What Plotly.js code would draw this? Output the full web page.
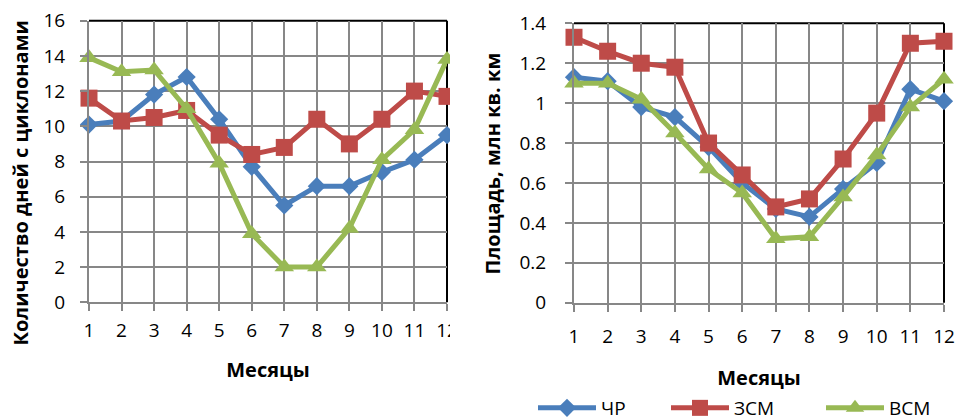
<!DOCTYPE html>
<html>
<head>
<meta charset="utf-8">
<script src="https://cdn.plot.ly/plotly-3.0.1.min.js"></script>
<style>html,body{margin:0;padding:0;background:#fff;}#chart{width:958px;height:420px;}</style>
</head>
<body>
<div id="chart"></div>
<script>
// Categories: months
const months = [1,2,3,4,5,6,7,8,9,10,11,12];
const monthLabels = ['1','2','3','4','5','6','7','8','9','10','11','12'];
const seriesNames = ['ЧР','ЗСМ','ВСМ'];

// Left chart: number of days with cyclones
const daysCHR = [10.1, 10.3, 11.8, 12.8, 10.4, 7.7, 5.5, 6.6, 6.6, 7.4, 8.1, 9.5];
const daysZSM = [11.6, 10.3, 10.5, 10.9, 9.5, 8.4, 8.8, 10.4, 9.0, 10.4, 12.0, 11.7];
const daysVSM = [13.9, 13.1, 13.2, 11.0, 7.9, 3.9, 2.0, 2.0, 4.2, 8.1, 9.8, 13.8];

// Right chart: area, mln sq. km
const areaCHR = [1.13, 1.11, 0.98, 0.93, 0.78, 0.60, 0.47, 0.43, 0.57, 0.70, 1.07, 1.01];
const areaZSM = [1.33, 1.26, 1.20, 1.18, 0.80, 0.64, 0.48, 0.52, 0.72, 0.95, 1.30, 1.31];
const areaVSM = [1.10, 1.10, 1.02, 0.85, 0.67, 0.55, 0.32, 0.33, 0.53, 0.74, 0.98, 1.12];

const leftTitle = 'Количество дней с циклонами';
const rightTitle = 'Площадь, млн кв. км';
const xTitle = 'Месяцы';

const colors = ['#4A7EBB', '#BE4B48', '#98B954'];
const symbols = ['diamond', 'square', 'triangle-up'];
const msizes = [14, 17, 17];

const leftData = [daysCHR, daysZSM, daysVSM];
const rightData = [areaCHR, areaZSM, areaVSM];

const traces = [];
leftData.forEach((ys, i) => {
  traces.push({
    x: months, y: ys, xaxis: 'x', yaxis: 'y', name: seriesNames[i],
    type: 'scatter', mode: 'lines+markers', cliponaxis: false, showlegend: false,
    line: {color: colors[i], width: 5},
    marker: {color: colors[i], symbol: symbols[i], size: msizes[i]}
  });
});
const legendNames = ['legend', 'legend2', 'legend3'];
rightData.forEach((ys, i) => {
  traces.push({
    x: months, y: ys, xaxis: 'x2', yaxis: 'y2', name: seriesNames[i],
    type: 'scatter', mode: 'lines+markers', cliponaxis: false, showlegend: true,
    legend: legendNames[i],
    line: {color: colors[i], width: 5},
    marker: {color: colors[i], symbol: symbols[i], size: msizes[i]}
  });
});

const W = 958, H = 420;
const fam = 'Open Sans, Noto Sans, sans-serif';
const font = {family: fam, size: 19, color: '#000'};
const titleFont = {family: fam, size: 20, color: '#000', weight: 'bold'};
const gridCol = '#878787';

function xaxisDef(domain, anchor, labelStandoff, titleStandoff) {
  return {
    domain: domain, anchor: anchor, range: [1, 12],
    tickvals: months, ticktext: monthLabels,
    showgrid: true, gridcolor: gridCol, gridwidth: 2,
    showline: true, linecolor: gridCol, linewidth: 2,
    ticks: 'outside', ticklen: 7, tickwidth: 2, tickcolor: gridCol,
    ticklabelstandoff: labelStandoff,
    zeroline: false, automargin: false, fixedrange: true,
    tickfont: font,
    title: {text: xTitle, font: titleFont, standoff: titleStandoff}
  };
}
function yaxisDef(domain, anchor, range, dtick, labelStandoff, fmt) {
  return {
    domain: domain, anchor: anchor, range: range, dtick: dtick, tick0: 0,
    tickformat: fmt,
    showgrid: true, gridcolor: gridCol, gridwidth: 2,
    showline: true, linecolor: gridCol, linewidth: 2,
    ticks: 'outside', ticklen: 7, tickwidth: 2, tickcolor: gridCol,
    ticklabelstandoff: labelStandoff,
    zeroline: false, automargin: false, fixedrange: true,
    tickfont: font
  };
}

const lx = [89/W, 447/W];
const ly = [(H-302.3)/H, (H-20.7)/H];
const rx = [574/W, 944/W];
const ry = [(H-302.7)/H, (H-23.3)/H];

function legendDef(px) {
  return {
    orientation: 'h', x: px/W, xanchor: 'left', y: (H-408)/H, yanchor: 'middle',
    font: font, itemwidth: 58, bgcolor: 'rgba(0,0,0,0)', borderwidth: 0,
    tracegroupgap: 0
  };
}

const layout = {
  width: W, height: H,
  margin: {l: 0, r: 0, t: 0, b: 0, autoexpand: false},
  paper_bgcolor: '#fff', plot_bgcolor: '#fff',
  font: font,
  showlegend: true,
  xaxis: xaxisDef(lx, 'y', 3, 21),
  yaxis: yaxisDef(ly, 'x', [0, 16], 2, 11, 'd'),
  xaxis2: xaxisDef(rx, 'y2', 8, 23),
  yaxis2: yaxisDef(ry, 'x2', [0, 1.4], 0.2, 15, ''),
  legend: legendDef(533),
  legend2: legendDef(666),
  legend3: legendDef(821),
  annotations: [
    {text: leftTitle, xref: 'paper', yref: 'paper', x: 20/W, y: (H-183.5)/H,
     xanchor: 'center', yanchor: 'middle', textangle: -90, showarrow: false, font: titleFont},
    {text: rightTitle, xref: 'paper', yref: 'paper', x: 492/W, y: (H-163.5)/H,
     xanchor: 'center', yanchor: 'middle', textangle: -90, showarrow: false, font: titleFont}
  ],
  shapes: [
    // black plot-area border on top and right (left chart)
    {type: 'line', xref: 'x domain', yref: 'y domain', x0: 0, x1: 1, y0: 1, y1: 1, line: {color: '#000', width: 2}, layer: 'below'},
    {type: 'line', xref: 'x domain', yref: 'y domain', x0: 1, x1: 1, y0: 0, y1: 1, line: {color: '#000', width: 2}, layer: 'below'},
    // right chart
    {type: 'line', xref: 'x2 domain', yref: 'y2 domain', x0: 0, x1: 1, y0: 1, y1: 1, line: {color: '#000', width: 2}, layer: 'below'},
    {type: 'line', xref: 'x2 domain', yref: 'y2 domain', x0: 1, x1: 1, y0: 0, y1: 1, line: {color: '#000', width: 2}, layer: 'below'},
    // crop edge of the left picture
    {type: 'rect', xref: 'paper', yref: 'paper', x0: 450/W, x1: 505/W, y0: 0, y1: 1, fillcolor: '#fff', line: {width: 0}, layer: 'above'}
  ]
};

Plotly.newPlot('chart', traces, layout, {displayModeBar: false, staticPlot: true});
</script>
</body>
</html>
